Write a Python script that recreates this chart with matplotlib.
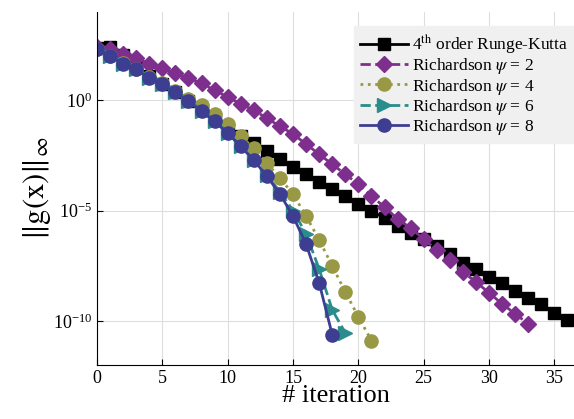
import numpy as np
import matplotlib
matplotlib.use('Agg')
import matplotlib.pyplot as plt

plt.rcParams['font.family'] = 'Liberation Serif'
plt.rcParams['mathtext.fontset'] = 'stix'

# log10 of ||g(x)||_inf
it_rk = list(range(0, 37))
log_rk = [2.38, 2.40, 2.06, 1.55, 1.12, 0.76, 0.38, -0.02, -0.45, -0.88, -1.28, -1.62,
          -1.93, -2.30, -2.65, -3.02, -3.35, -3.71, -4.03, -4.34, -4.71, -5.02, -5.34,
          -5.70, -6.02, -6.29, -6.61, -6.97, -7.38, -7.65, -8.01, -8.28, -8.64, -8.96,
          -9.23, -9.64, -9.97]

it_p2 = list(range(0, 34))
log_p2 = [2.40, 2.31, 2.08, 1.90, 1.67, 1.45, 1.22, 1.00, 0.77, 0.45, 0.15, -0.16,
          -0.45, -0.81, -1.18, -1.52, -1.99, -2.44, -2.90, -3.35, -3.80, -4.34, -4.84,
          -5.38, -5.79, -6.29, -6.79, -7.24, -7.78, -8.24, -8.73, -9.23, -9.68, -10.14]

it_p4 = list(range(0, 22))
log_p4 = [2.31, 2.00, 1.70, 1.42, 1.08, 0.78, 0.42, 0.08, -0.22, -0.63, -1.09, -1.63,
          -2.17, -2.85, -3.53, -4.25, -5.25, -6.33, -7.51, -8.69, -9.82, -10.90]

it_p6 = list(range(0, 20))
log_p6 = [2.31, 1.99, 1.67, 1.40, 1.00, 0.72, 0.36, -0.05, -0.50, -0.95, -1.49, -2.08,
          -2.71, -3.40, -4.15, -5.00, -6.06, -7.65, -9.50, -10.55]

it_p8 = list(range(0, 19))
log_p8 = [2.31, 1.99, 1.67, 1.40, 1.00, 0.72, 0.36, -0.05, -0.50, -0.95, -1.49, -2.08,
          -2.71, -3.44, -4.25, -5.25, -6.52, -8.28, -10.63]

labels = ['4$^{\\mathrm{th}}$ order Runge-Kutta',
          'Richardson $\\psi$ = 2',
          'Richardson $\\psi$ = 4',
          'Richardson $\\psi$ = 6',
          'Richardson $\\psi$ = 8']

fig = plt.figure(figsize=(5.74, 4.19), dpi=100)
ax = fig.add_axes([0.169, 0.129, 0.831, 0.842])

ax.semilogy(it_rk, 10.0 ** np.array(log_rk), '-s', color='black', lw=2,
            ms=9, label=labels[0])
ax.semilogy(it_p2, 10.0 ** np.array(log_p2), '--D', color='#7e2f8e', lw=2,
            ms=8.5, label=labels[1])
ax.semilogy(it_p4, 10.0 ** np.array(log_p4), ':o', color='#999945', lw=2,
            ms=9.5, label=labels[2])
ax.semilogy(it_p6, 10.0 ** np.array(log_p6), '-->', color='#2b8c8c', lw=2,
            ms=9.5, label=labels[3])
ax.semilogy(it_p8, 10.0 ** np.array(log_p8), '-o', color='#3d3d92', lw=2,
            ms=9.5, label=labels[4])

ax.set_xlim(0, 36.5)
ax.set_ylim(1e-12, 1e4)
ax.set_xticks([0, 5, 10, 15, 20, 25, 30, 35])
ax.set_yticks([1e-10, 1e-5, 1e0])
ax.yaxis.set_minor_locator(matplotlib.ticker.NullLocator())
ax.grid(True, color='#dedede', lw=0.8)
ax.set_axisbelow(True)
ax.spines['top'].set_visible(False)
ax.spines['right'].set_visible(False)
ax.tick_params(direction='in', labelsize=13, length=4)

ax.set_xlabel('# iteration', fontsize=19, labelpad=-1)
ax.set_ylabel('$\\|\\mathrm{g(x)}\\|_{\\infty}$', fontsize=22, labelpad=0)

leg = ax.legend(loc='upper right', bbox_to_anchor=(1.0, 0.96), fontsize=12.5,
                frameon=True, fancybox=False, handlelength=2.8,
                handletextpad=0.2, borderpad=0.35, labelspacing=0.02,
                borderaxespad=0.0)
leg.get_frame().set_facecolor('#f0f0f0')
leg.get_frame().set_edgecolor('#f0f0f0')
leg.get_frame().set_alpha(1)

fig.savefig('out.png', dpi=100)
